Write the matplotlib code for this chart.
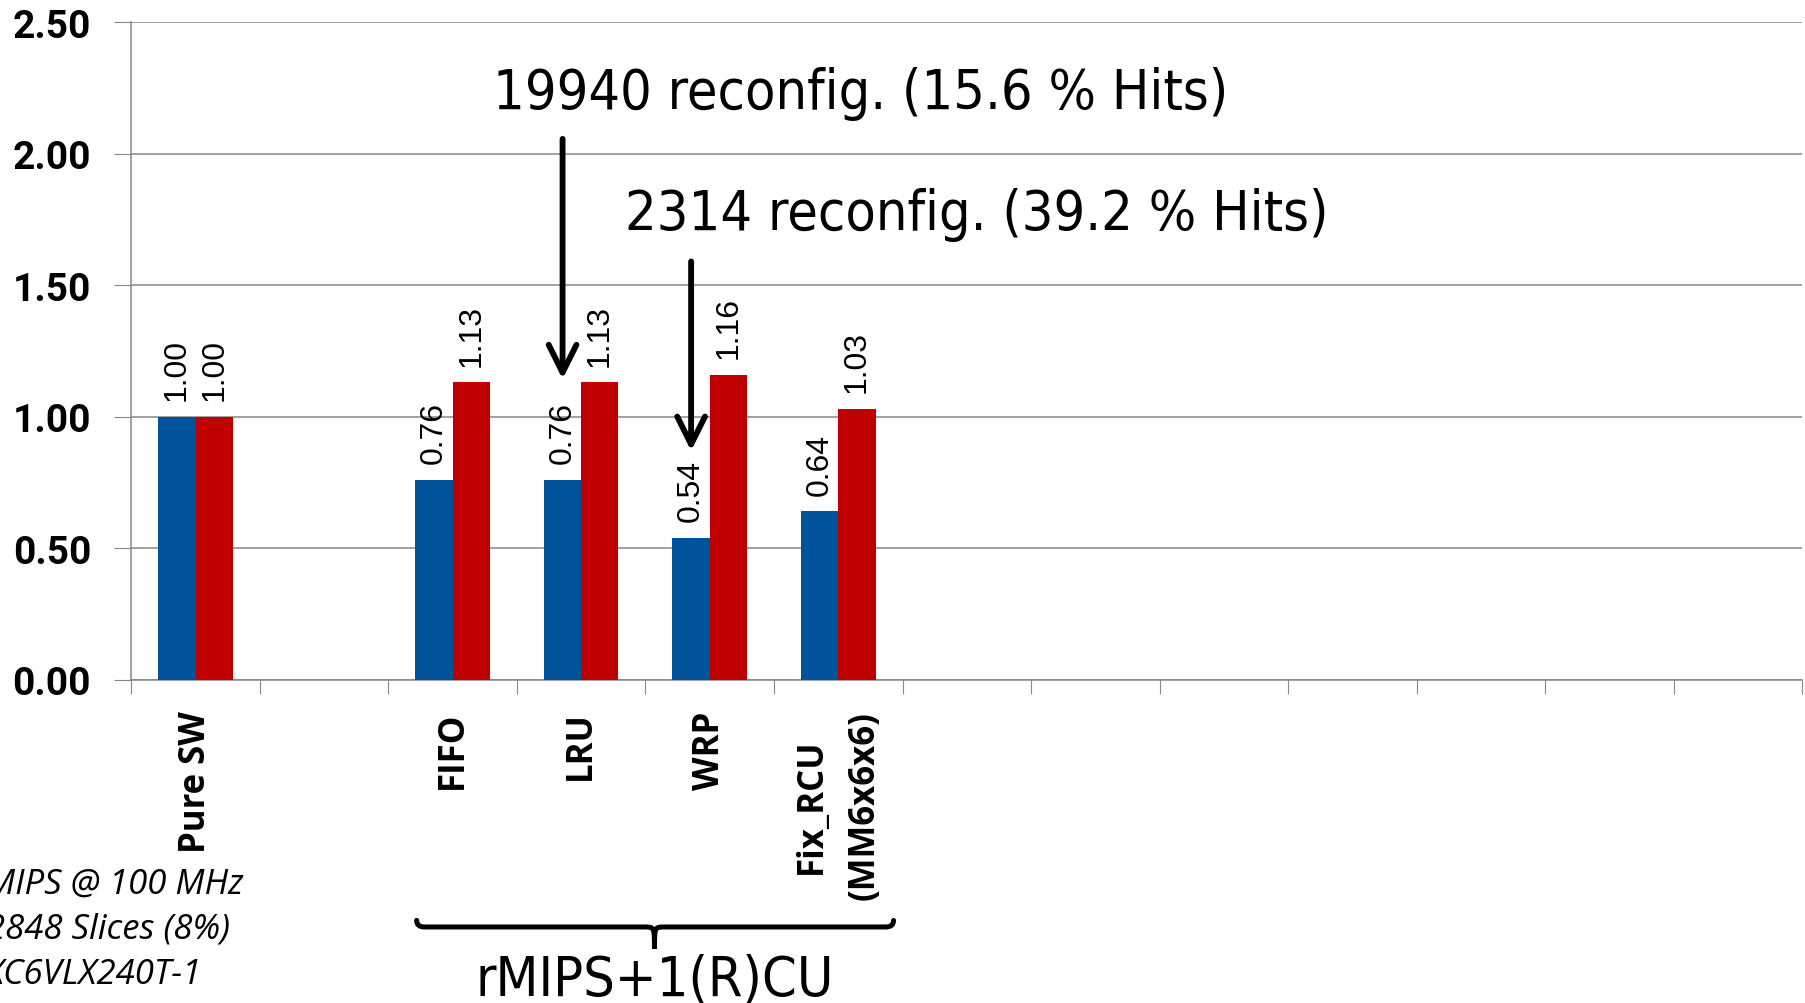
import numpy as np
import matplotlib
matplotlib.use('Agg')
import matplotlib.pyplot as plt
from matplotlib import font_manager
from matplotlib.path import Path
from matplotlib.patches import PathPatch

# Categories along the x axis (empty ones are unused slots)
categories = ['Pure SW', '', 'FIFO', 'LRU', 'WRP', 'Fix_RCU\n(MM6x6x6)',
              '', '', '', '', '', '', '']
blue_vals = [1.00, None, 0.76, 0.76, 0.54, 0.64]
red_vals = [1.00, None, 1.13, 1.13, 1.16, 1.03]
yticks = [0.0, 0.5, 1.0, 1.5, 2.0, 2.5]

notes = ['19940 reconfig. (15.6 % Hits)', '2314 reconfig. (39.2 % Hits)']
platform = ['MIPS @ 100 MHz', '2848 Slices (8%)', 'XC6VLX240T-1']
group_label = 'rMIPS+1(R)CU'

blue = '#00529B'
red = '#C00000'
grey = '#868686'

# narrow font for the call-outs, if there is one
names = {f.name for f in font_manager.fontManager.ttflist}
narrow = 'Liberation Sans Narrow' if 'Liberation Sans Narrow' in names else 'DejaVu Sans'

fig = plt.figure(figsize=(18.06, 10.04), dpi=100)
ax = fig.add_axes([0.0727, 0.322, 0.9253, 0.655])

w = 0.29
x = np.arange(len(categories))
for i in range(len(blue_vals)):
    if blue_vals[i] is None:
        continue
    ax.bar(x[i] - w/2, blue_vals[i], w, color=blue, zorder=3)
    ax.bar(x[i] + w/2, red_vals[i], w, color=red, zorder=3)
    for xo, v in [(x[i] - w/2, blue_vals[i]), (x[i] + w/2, red_vals[i])]:
        ax.annotate('%.2f' % v, (xo, v), xytext=(0, 12), textcoords='offset points',
                    rotation=90, ha='center', va='bottom',
                    fontsize=23, family='Liberation Sans')

ax.set_xlim(-0.5, len(categories) - 0.5)
ax.set_ylim(0, 2.5)
ax.set_yticks(yticks)
ax.set_yticklabels(['%.2f' % t for t in yticks], fontsize=28, family='Roboto',
                   fontweight='bold')
ax.tick_params(axis='y', length=12, color=grey, pad=17)
ax.yaxis.grid(True, color=grey, linewidth=1.1, zorder=0)

# boundary ticks, labels at the centres
ax.set_xticks(np.arange(len(categories) + 1) - 0.5)
ax.set_xticklabels([])
ax.set_xticks(x, minor=True)
ax.set_xticklabels(categories, minor=True, rotation=90, va='top', ha='center',
                   fontsize=25, family='Open Sans', fontweight='bold',
                   multialignment='center', linespacing=1.65)
ax.tick_params(axis='x', which='major', length=10, color=grey)
ax.tick_params(axis='x', which='minor', length=0, pad=22)

for s in ['top', 'right']:
    ax.spines[s].set_visible(False)
for s in ['left', 'bottom']:
    ax.spines[s].set_color(grey)
    ax.spines[s].set_linewidth(1.1)

# call-out arrows
arrows = [(2.855, 2.056, 1.143), (3.855, 1.59, 0.87)]
for xa, y0, y1 in arrows:
    ax.annotate('', xy=(xa, y1), xytext=(xa, y0),
                arrowprops=dict(arrowstyle='->', lw=4.2, color='black',
                                mutation_scale=50, shrinkA=0, shrinkB=0))
ax.text(2.31, 2.23, notes[0], fontsize=40, family=narrow, stretch='condensed',
        va='center', ha='left')
ax.text(3.34, 1.77, notes[1], fontsize=40, family=narrow, stretch='condensed',
        va='center', ha='left')

# brace under the reconfigurable group
tr = ax.get_xaxis_transform()
xl, xc, xr = 1.72, 3.57, 5.43
yb, yh, yt = -0.376, -0.366, -0.409
verts = [(xl, yh), (xl, yb), (xl + 0.06, yb), (xc - 0.08, yb),
         (xc, yb), (xc, yb), (xc, yt),
         (xc, yb), (xc, yb), (xc + 0.08, yb),
         (xr - 0.06, yb), (xr, yb), (xr, yh)]
codes = [Path.MOVETO, Path.CURVE3, Path.CURVE3, Path.LINETO,
         Path.CURVE4, Path.CURVE4, Path.CURVE4,
         Path.CURVE4, Path.CURVE4, Path.CURVE4,
         Path.LINETO, Path.CURVE3, Path.CURVE3]
ax.add_patch(PathPatch(Path(verts, codes), transform=tr, fill=False, lw=3.6,
                       color='black', clip_on=False, capstyle='round'))
ax.text(xc, -0.479, group_label, transform=tr, fontsize=40, family=narrow,
        stretch='condensed', ha='center', va='baseline')

# platform notes, bottom left
for k, line in enumerate(platform):
    fig.text(-0.008, [0.1185, 0.0747, 0.0289][k], line, fontsize=25,
             family='Open Sans', style='italic', va='center', ha='left')

fig.savefig('out.png', dpi=100)
